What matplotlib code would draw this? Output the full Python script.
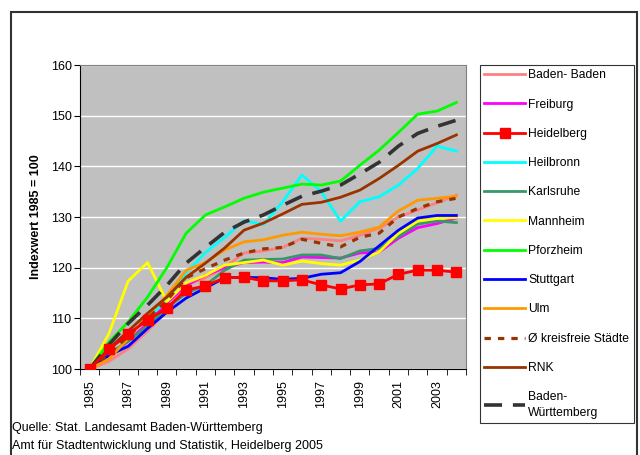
import matplotlib
matplotlib.use("Agg")
import matplotlib.pyplot as plt
from matplotlib.patches import Rectangle
from matplotlib.ticker import MultipleLocator

plt.rcParams['font.family'] = ['Liberation Sans', 'DejaVu Sans']

# Jahre und Indexwerte (1985 = 100)
jahre = list(range(1985, 2005))

baden_baden = [100, 101.5, 104, 107.5, 111.5, 116.5, 118, 120, 122.9, 123.3, 124, 125.8, 125.6, 125.3, 126.4, 127.8, 130, 131.4, 132.8, 134.3]
freiburg = [100, 102.5, 105.5, 109, 113, 116.5, 118.5, 120, 121, 121.1, 121, 122.1, 122, 121.9, 122.9, 123.1, 125.8, 127.9, 128.7, 129.8]
heidelberg = [100, 103.9, 106.9, 109.7, 112, 115.6, 116.4, 118, 118.1, 117.4, 117.4, 117.6, 116.6, 115.8, 116.6, 116.8, 118.7, 119.5, 119.5, 119.1]
heilbronn = [100, 104, 106.7, 110, 113.5, 119, 123, 126, 129.3, 128.5, 133, 138.3, 135, 129.2, 133, 134, 136.3, 139.6, 144, 143]
karlsruhe = [100, 103, 105.5, 108.5, 112, 115, 116.5, 119.5, 121.5, 121.6, 121.7, 122.5, 122.5, 121.8, 123.3, 123.8, 126.1, 128.6, 129.2, 128.9]
mannheim = [100, 107, 117.4, 121, 113.3, 117, 118.5, 120.5, 121, 121.5, 120.5, 121.3, 120.8, 120.5, 121.5, 123.1, 126.8, 129.2, 129.7, 129.9]
pforzheim = [100, 105.3, 109.3, 114.2, 120, 126.8, 130.4, 132, 133.7, 134.9, 135.7, 136.5, 136.3, 137.1, 140.2, 143.2, 146.7, 150.3, 150.9, 152.6]
stuttgart = [100, 102.7, 104.5, 108, 111.2, 114, 116, 118, 118.1, 118, 117.7, 117.9, 118.7, 119, 121.2, 124.3, 127.4, 129.8, 130.3, 130.3]
ulm = [100, 102, 106, 110.5, 114.5, 119.5, 121, 123.5, 125.1, 125.5, 126.4, 127, 126.6, 126.3, 127, 128, 131.2, 133.3, 133.7, 134.1]
kreisfrei = [100, 103, 106.5, 110, 113.5, 118, 119.8, 121.5, 122.9, 123.7, 124, 125.6, 124.8, 124.1, 126, 126.8, 130, 131.7, 133, 133.7]
rnk = [100, 104, 107.5, 111, 114.2, 118.1, 120.9, 123.9, 127.4, 128.8, 130.6, 132.5, 132.9, 133.9, 135.3, 137.6, 140.2, 143, 144.5, 146.2]
bw = [100, 104.8, 109, 112.6, 116.5, 120.9, 124, 127, 129, 130.4, 132.3, 134.1, 135.1, 136.3, 138.5, 140.8, 144, 146.5, 147.9, 149.1]

fig = plt.figure(figsize=(6.4, 4.55), dpi=100)
ax = fig.add_axes([80/640, 1-369/455, 386/640, 304/455])
ax.set_facecolor('#C0C0C0')

# Rahmen um das ganze Diagramm
fig.patches.append(Rectangle((11/640, -0.05), 626/640, 1.05-12/455, transform=fig.transFigure,
                             fill=False, edgecolor='#333333', lw=1.5))

lw = 2.0
ax.plot(jahre, baden_baden, color='#FF8080', lw=lw, label='Baden- Baden')
ax.plot(jahre, freiburg, color='#FF00FF', lw=lw, label='Freiburg')
ax.plot(jahre, heidelberg, color='#FF0000', lw=lw, marker='s', ms=6.5, label='Heidelberg', zorder=5)
ax.plot(jahre, heilbronn, color='#00FFFF', lw=lw, label='Heilbronn')
ax.plot(jahre, karlsruhe, color='#339966', lw=lw, label='Karlsruhe')
ax.plot(jahre, mannheim, color='#FFFF00', lw=lw, label='Mannheim')
ax.plot(jahre, pforzheim, color='#00FF00', lw=lw, label='Pforzheim')
ax.plot(jahre, stuttgart, color='#0000FF', lw=lw, label='Stuttgart')
ax.plot(jahre, ulm, color='#FF9900', lw=lw, label='Ulm')
ax.plot(jahre, kreisfrei, color='#993300', lw=2.3, dashes=(2, 2.2), label='Ø kreisfreie Städte')
ax.plot(jahre, rnk, color='#993300', lw=lw, label='RNK')
ax.plot(jahre, bw, color='#333333', lw=2.6, dashes=(5, 3), label='Baden-\nWürttemberg')

ax.set_xlim(1984.5, 2004.5)
ax.set_ylim(100, 160)
ax.yaxis.set_major_locator(MultipleLocator(10))
ax.grid(axis='y', color='white', lw=1)
ax.set_axisbelow(True)

ax.set_xticks(jahre[::2])
ax.set_xticklabels([str(j) for j in jahre[::2]], rotation=90)
ax.set_xticks([j - 0.5 for j in jahre] + [2004.5], minor=True)
ax.tick_params(axis='x', which='major', length=0, pad=8, labelsize=9)
ax.tick_params(axis='x', which='minor', length=4, direction='out', color='black')
ax.tick_params(axis='y', length=4, direction='out', labelsize=9, pad=2)

for s in ['top', 'right']:
    ax.spines[s].set_color('#808080')
for s in ['left', 'bottom']:
    ax.spines[s].set_color('black')

ax.set_ylabel('Indexwert 1985 = 100', fontsize=9, fontweight='bold', labelpad=6)

leg = fig.legend(loc='upper left', bbox_to_anchor=(480/640, 1-65/455), fontsize=8.7,
                 handlelength=3.4, handletextpad=0.25, labelspacing=1.43, borderpad=0.35,
                 frameon=True, fancybox=False, edgecolor='black', borderaxespad=0)
leg.get_frame().set_linewidth(0.8)
leg.get_texts()[-1].set_linespacing(1.4)

fig.text(12/640, 1-431/455, 'Quelle: Stat. Landesamt Baden-Württemberg', fontsize=9)
fig.text(12/640, 1-449/455, 'Amt für Stadtentwicklung und Statistik, Heidelberg 2005', fontsize=9)

fig.savefig('out.png', dpi=100)
